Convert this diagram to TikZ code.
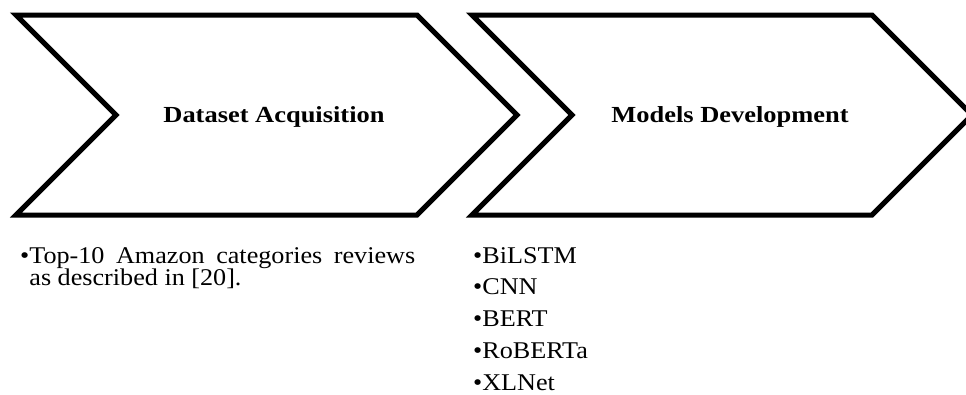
\documentclass[tikz,border=0pt]{standalone}
\usepackage{fontspec}
\setmainfont{Liberation Serif}[FakeStretch=1.09]
\newfontfamily\hdfont{Liberation Serif}[FakeStretch=1.15]
\begin{document}
\begin{tikzpicture}[x=1pt,y=-1pt,
  chev/.style={draw=black,line width=5pt,line join=miter,fill=white},
  head/.style={font=\hdfont\bfseries\fontsize{23}{26}\selectfont,inner sep=0pt,anchor=base},
  item/.style={font=\fontsize{24}{20}\selectfont,inner sep=0pt,anchor=base west}]
\useasboundingbox (0,0) rectangle (966,394);
\clip (0,0) rectangle (966,394);
\draw[chev] (16,15) -- (417,15) -- (517,115) -- (417,215) -- (16,215) -- (116,115) -- cycle;
\draw[chev] (472,15) -- (872,15) -- (972,115) -- (872,215) -- (472,215) -- (572,115) -- cycle;
\node[head] (h1) at (274,122) {Dataset Acquisition};
\node[head] (h2) at (730,122) {Models Development};
\node[item,text width=395pt,align=justify] (d1) at (20,263)
  {•Top-10 Amazon categories reviews as described in [20].\hangindent=9.2pt\hangafter=1\par};
\foreach \t/\y [count=\i] in {BiLSTM/263,CNN/294,BERT/326,RoBERTa/358,XLNet/390}
  \node[item] (m\i) at (473,\y) {•\t};
\end{tikzpicture}
\end{document}
